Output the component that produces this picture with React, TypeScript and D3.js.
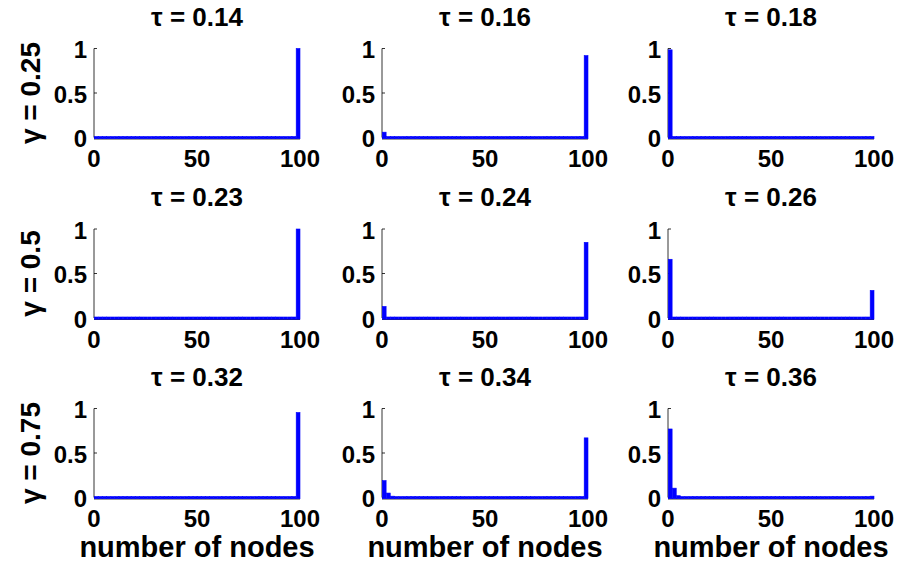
import React from "react";
import * as d3 from "d3";

const W = 902;
const H = 569;

// Panel titles (tau values), row labels (gamma values)
const TAUS = ["0.14", "0.16", "0.18", "0.23", "0.24", "0.26", "0.32", "0.34", "0.36"];
const GAMMAS = ["0.25", "0.5", "0.75"];
const X_TICKS = [0, 50, 100];
const Y_TICKS = [0, 0.5, 1];
const X_LABEL = "number of nodes";

// Histogram bin edges: 50 bins of width 2 from 0 to 100
const BIN_EDGES = d3.range(0, 101, 2);

// Non-zero bins per panel: [bin index, fraction]
const P1: [number, number][] = [[49, 1.0]];
const P2: [number, number][] = [[0, 0.06], [49, 0.92]];
const P3: [number, number][] = [[0, 0.985]];
const P4: [number, number][] = [[49, 1.0]];
const P5: [number, number][] = [[0, 0.13], [49, 0.85]];
const P6: [number, number][] = [[0, 0.66], [49, 0.31]];
const P7: [number, number][] = [[49, 0.955]];
const P8: [number, number][] = [[0, 0.19], [1, 0.05], [2, 0.015], [3, 0.01], [49, 0.67]];
const P9: [number, number][] = [[0, 0.77], [1, 0.105], [2, 0.02], [3, 0.01], [4, 0.01], [49, 0.015]];
const PANELS = [P1, P2, P3, P4, P5, P6, P7, P8, P9];

const COL_LEFT = [94, 382, 668];
const ROW_TOP = [48.5, 229, 408.5];
const PW = 206;
const PH = 89;
const BLUE = "#0000ff";
const FONT = "'Liberation Sans', Arial, Helvetica, sans-serif";

function Panel({ idx }: { idx: number }) {
  const col = idx % 3;
  const row = Math.floor(idx / 3);
  const x0 = COL_LEFT[col];
  const y0 = ROW_TOP[row];
  const x = d3.scaleLinear().domain([0, 100]).range([x0, x0 + PW]);
  const y = d3.scaleLinear().domain([0, 1]).range([y0 + PH, y0]);
  const values = new Array(BIN_EDGES.length - 1).fill(0);
  PANELS[idx].forEach(([b, v]) => (values[b] = v));
  const base = y(0);
  return (
    <g>
      {/* axes lines */}
      <line x1={x(0)} x2={x(0)} y1={y(1)} y2={y(0)} stroke="#000" strokeWidth={0.8} />
      <line x1={x(0)} x2={x(100)} y1={y(0) + 1.5} y2={y(0) + 1.5} stroke="#000" strokeWidth={0.8} />
      {Y_TICKS.map((t) => (
        <line key={"yt" + t} x1={x(0)} x2={x(0) + 3} y1={y(t)} y2={y(t)} stroke="#000" strokeWidth={0.8} />
      ))}
      {/* bars */}
      {values.map((v, i) => {
        const top = Math.min(y(v), base - 1);
        return (
          <rect
            key={i}
            x={x(BIN_EDGES[i]) + 0.3}
            width={x(BIN_EDGES[i + 1]) - x(BIN_EDGES[i]) - 0.3}
            y={top}
            height={base + 1.2 - top}
            fill={BLUE}
            stroke={BLUE}
            strokeWidth={0.6}
          />
        );
      })}
      {/* y tick labels */}
      {Y_TICKS.map((t) => (
        <text
          key={"yl" + t}
          x={x(0) - 7}
          y={y(t) + 1}
          textAnchor="end"
          dominantBaseline="central"
          fontFamily={FONT}
          fontWeight="bold"
          fontSize={24}
        >
          {String(t)}
        </text>
      ))}
      {/* x tick labels */}
      {X_TICKS.map((t) => (
        <text
          key={"xl" + t}
          x={x(t)}
          y={base + 21}
          textAnchor="middle"
          dominantBaseline="central"
          fontFamily={FONT}
          fontWeight="bold"
          fontSize={24}
        >
          {String(t)}
        </text>
      ))}
      {/* title */}
      <text
        x={x(50)}
        y={y(1) - 23}
        textAnchor="middle"
        fontFamily={FONT}
        fontWeight="bold"
        fontSize={26}
      >
        {"τ = " + TAUS[idx]}
      </text>
      {row === 2 && (
        <text
          x={x(50)}
          y={base + 59}
          textAnchor="middle"
          fontFamily={FONT}
          fontWeight="bold"
          fontSize={29}
        >
          {X_LABEL}
        </text>
      )}
      {col === 0 && (
        <text
          transform={`translate(${x0 - 64},${y(0.5)}) rotate(-90)`}
          textAnchor="middle"
          dominantBaseline="central"
          fontFamily={FONT}
          fontWeight="bold"
          fontSize={28}
        >
          {"γ = " + GAMMAS[row]}
        </text>
      )}
    </g>
  );
}

export default function App() {
  return (
    <svg
      width={W}
      height={H}
      style={{ position: "absolute", left: 0, top: 0, background: "#fff" }}
    >
      <rect width={W} height={H} fill="#fff" />
      {TAUS.map((_, i) => (
        <Panel key={i} idx={i} />
      ))}
    </svg>
  );
}
